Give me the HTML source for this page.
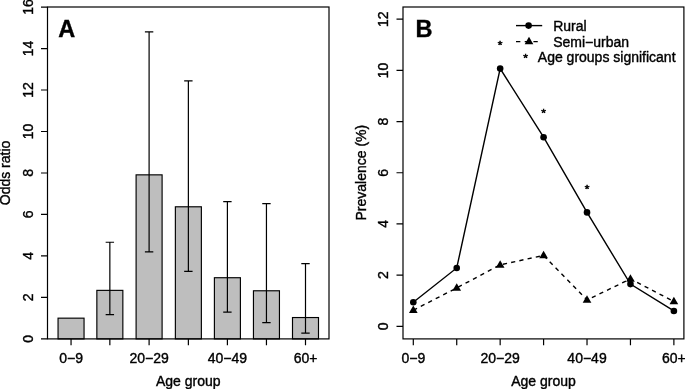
<!DOCTYPE html>
<html lang="en"><head><meta charset="utf-8"><title>Figure</title>
<style>
html,body{margin:0;padding:0;background:#fff;}
body{width:685px;height:389px;overflow:hidden;}
svg{display:block;}
text{font-family:"Liberation Sans", Arial, Helvetica, sans-serif;font-size:14px;fill:#000;stroke:#000;stroke-width:0.38px;}
.b{font-weight:bold;font-size:23.5px;}
.l{stroke:#000;stroke-width:1.2;fill:none;stroke-linecap:butt;}
.d{stroke:#000;stroke-width:1.4;fill:none;}
.bar{fill:#bebebe;stroke:#000;stroke-width:1.15;}
</style></head><body>
<svg width="685" height="389" viewBox="0 0 685 389">
<rect x="0" y="0" width="685" height="389" fill="#fff"/>
<g id="panelA">
<rect class="bar" x="58.05" y="318.16" width="26.0" height="20.74"/>
<rect class="bar" x="96.85" y="290.37" width="26.0" height="48.53"/>
<rect class="bar" x="136.10" y="174.85" width="26.0" height="164.05"/>
<rect class="bar" x="175.37" y="206.79" width="26.0" height="132.11"/>
<rect class="bar" x="214.40" y="277.72" width="26.0" height="61.18"/>
<rect class="bar" x="253.45" y="290.78" width="26.0" height="48.12"/>
<rect class="bar" x="292.50" y="317.54" width="26.0" height="21.36"/>
<path class="l" d="M109.85 314.63V242.25M105.65 314.63H114.05M105.65 242.25H114.05"/>
<path class="l" d="M149.10 251.79V31.95M144.90 251.79H153.30M144.90 31.95H153.30"/>
<path class="l" d="M188.37 271.29V80.89M184.17 271.29H192.57M184.17 80.89H192.57"/>
<path class="l" d="M227.40 312.15V201.60M223.20 312.15H231.60M223.20 201.60H231.60"/>
<path class="l" d="M266.45 322.72V203.68M262.25 322.72H270.65M262.25 203.68H270.65"/>
<path class="l" d="M305.50 333.09V263.61M301.30 333.09H309.70M301.30 263.61H309.70"/>
<rect class="l" x="47.5" y="7.0" width="281.5" height="331.9"/>
<path class="l" d="M47.5 338.90h-6.5M47.5 297.42h-6.5M47.5 255.94h-6.5M47.5 214.46h-6.5M47.5 172.98h-6.5M47.5 131.50h-6.5M47.5 90.02h-6.5M47.5 48.54h-6.5M47.5 7.06h-6.5"/>
<text text-anchor="middle" transform="translate(33 338.90) rotate(-90)">0</text>
<text text-anchor="middle" transform="translate(33 297.42) rotate(-90)">2</text>
<text text-anchor="middle" transform="translate(33 255.94) rotate(-90)">4</text>
<text text-anchor="middle" transform="translate(33 214.46) rotate(-90)">6</text>
<text text-anchor="middle" transform="translate(33 172.98) rotate(-90)">8</text>
<text text-anchor="middle" transform="translate(33 131.50) rotate(-90)">10</text>
<text text-anchor="middle" transform="translate(33 90.02) rotate(-90)">12</text>
<text text-anchor="middle" transform="translate(33 48.54) rotate(-90)">14</text>
<text text-anchor="middle" transform="translate(33 7.06) rotate(-90)">16</text>
<path class="l" d="M71.05 338.9v6.3M109.85 338.9v6.3M149.10 338.9v6.3M188.37 338.9v6.3M227.40 338.9v6.3M266.45 338.9v6.3M305.50 338.9v6.3"/>
<text text-anchor="middle" x="71.05" y="363.4">0−9</text>
<text text-anchor="middle" x="149.10" y="363.4">20−29</text>
<text text-anchor="middle" x="227.40" y="363.4">40−49</text>
<text text-anchor="middle" x="305.50" y="363.4">60+</text>
<text text-anchor="middle" x="188.25" y="386">Age group</text>
<text text-anchor="middle" transform="translate(10.2 172.95) rotate(-90)">Odds ratio</text>
<text class="b" x="58.3" y="36.8">A</text>
</g>
<g id="panelB">
<rect class="l" x="403.0" y="7.0" width="280.9" height="331.9"/>
<path class="l" d="M403.0 326.30h-6.5M403.0 275.12h-6.5M403.0 223.94h-6.5M403.0 172.76h-6.5M403.0 121.58h-6.5M403.0 70.40h-6.5M403.0 19.22h-6.5"/>
<text text-anchor="middle" transform="translate(388.3 326.30) rotate(-90)">0</text>
<text text-anchor="middle" transform="translate(388.3 275.12) rotate(-90)">2</text>
<text text-anchor="middle" transform="translate(388.3 223.94) rotate(-90)">4</text>
<text text-anchor="middle" transform="translate(388.3 172.76) rotate(-90)">6</text>
<text text-anchor="middle" transform="translate(388.3 121.58) rotate(-90)">8</text>
<text text-anchor="middle" transform="translate(388.3 70.40) rotate(-90)">10</text>
<text text-anchor="middle" transform="translate(388.3 19.22) rotate(-90)">12</text>
<path class="l" d="M413.30 338.9v6.3M456.73 338.9v6.3M500.16 338.9v6.3M543.59 338.9v6.3M587.02 338.9v6.3M630.45 338.9v6.3M673.88 338.9v6.3"/>
<text text-anchor="middle" x="413.30" y="363.4">0−9</text>
<text text-anchor="middle" x="500.16" y="363.4">20−29</text>
<text text-anchor="middle" x="587.02" y="363.4">40−49</text>
<text text-anchor="middle" x="673.88" y="363.4">60+</text>
<text text-anchor="middle" x="543.45" y="386">Age group</text>
<text text-anchor="middle" transform="translate(365.6 172.65) rotate(-90)">Prevalence (%)</text>
<text class="b" x="415.4" y="36.8">B</text>
<polyline class="d" points="413.30,302.25 456.73,267.95 500.16,68.61 543.59,137.19 587.02,212.42 630.45,284.08 673.88,310.95"/>
<polyline class="d" stroke-dasharray="4.2 4.2" points="413.30,310.18 456.73,287.92 500.16,264.88 543.59,255.42 587.02,299.94 630.45,278.96 673.88,301.48"/>
<circle cx="413.30" cy="302.25" r="3.3" fill="#000"/>
<circle cx="456.73" cy="267.95" r="3.3" fill="#000"/>
<circle cx="500.16" cy="68.61" r="3.3" fill="#000"/>
<circle cx="543.59" cy="137.19" r="3.3" fill="#000"/>
<circle cx="587.02" cy="212.42" r="3.3" fill="#000"/>
<circle cx="630.45" cy="284.08" r="3.3" fill="#000"/>
<circle cx="673.88" cy="310.95" r="3.3" fill="#000"/>
<path d="M413.30 305.43L417.63 312.93L408.97 312.93Z" fill="#000"/>
<path d="M456.73 283.17L461.06 290.67L452.40 290.67Z" fill="#000"/>
<path d="M500.16 260.13L504.49 267.63L495.83 267.63Z" fill="#000"/>
<path d="M543.59 250.67L547.92 258.17L539.26 258.17Z" fill="#000"/>
<path d="M587.02 295.19L591.35 302.69L582.69 302.69Z" fill="#000"/>
<path d="M630.45 274.21L634.78 281.71L626.12 281.71Z" fill="#000"/>
<path d="M673.88 296.73L678.21 304.23L669.55 304.23Z" fill="#000"/>
<text text-anchor="middle" transform="translate(500.16 48.91) scale(1.2 1)" style="font-size:10px;stroke-width:0.5px">*</text>
<text text-anchor="middle" transform="translate(543.59 117.49) scale(1.2 1)" style="font-size:10px;stroke-width:0.5px">*</text>
<text text-anchor="middle" transform="translate(587.02 192.72) scale(1.2 1)" style="font-size:10px;stroke-width:0.5px">*</text>
<path class="d" d="M516 25.6H542.2"/>
<circle cx="528.6" cy="25.6" r="3.3" fill="#000"/>
<path class="d" stroke-dasharray="4.35 4.35" d="M516 41.6H541"/>
<path d="M529.00 36.85L533.33 44.35L524.67 44.35Z" fill="#000"/>
<text text-anchor="middle" transform="translate(525.50 61.90) scale(1.2 1)" style="font-size:10px;stroke-width:0.5px">*</text>
<text x="553.2" y="31.0">Rural</text>
<text x="553.2" y="47.0">Semi−urban</text>
<text x="537.8" y="62.0">Age groups significant</text>
</g>
</svg></body></html>
